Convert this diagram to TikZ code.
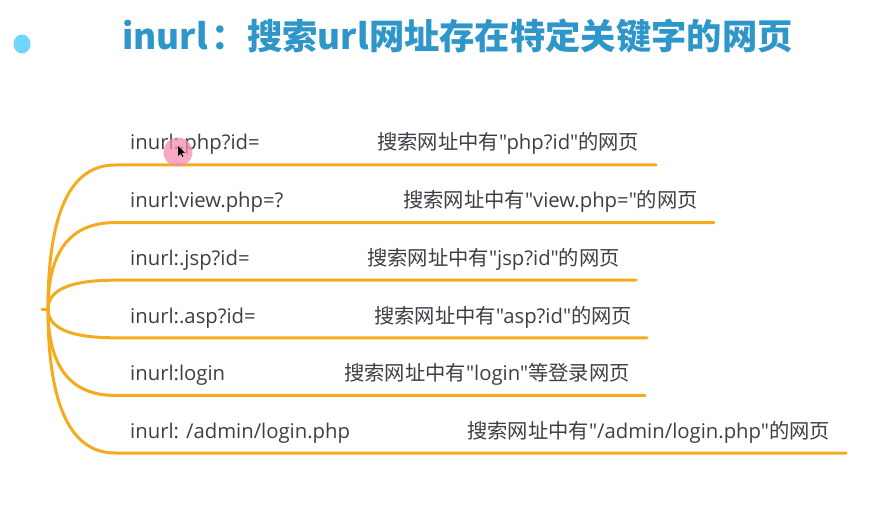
\documentclass[tikz,border=0pt]{standalone}
\usepackage{fontspec}
\newfontfamily\lat{Open Sans}
\newfontfamily\cjk{Noto Sans CJK SC}
\definecolor{branch}{HTML}{F5AB1E}
\definecolor{txt}{HTML}{3C3F44}
\definecolor{titleblue}{HTML}{2E96C9}
\definecolor{dotblue}{HTML}{6FD6FD}
\definecolor{pinkc}{HTML}{F28DB2}
\tikzset{
  branchline/.style={draw=branch, line width=3pt, line cap=round},
  keylabel/.style={anchor=base west, inner sep=0pt, text=txt, font=\lat\fontsize{20.3}{24}\selectfont},
  desclabel/.style={anchor=base west, inner sep=0pt, text=txt, font=\lat\fontsize{20.3}{24}\selectfont},
}
\begin{document}
\begin{tikzpicture}[x=1pt, y=-1pt]
\useasboundingbox (0,0) rectangle (873,505);
\fill[white] (0,0) rectangle (873,505);

% decoration dot
\fill[dotblue] (22,44) ellipse [x radius=8.5, y radius=9.5];

% title
\node[anchor=base west, inner sep=0pt, text=titleblue, font=\cjk\fontsize{35.3}{40}\selectfont\bfseries] (title) at (122,50)
  {inurl\kern4pt：搜索url网址存在特定关键字的网页};

% root
\coordinate (root) at (48,309);
\coordinate (stub) at (42,309);
\draw[branchline] (stub) -- (root);

% branch levels
\foreach \i/\y/\e in {1/165/656, 2/222.6/714, 3/280.2/636, 4/337.8/647, 5/395.4/645, 6/453/846}{
  \coordinate (s\i) at (115,\y);
  \coordinate (e\i) at (\e,\y);
  \draw[branchline] (root) .. controls (48,{309+2/3*(\y-309)}) and (70.3,\y) .. (s\i) -- (e\i);
}

% labels
\node[keylabel] (k1) at (130,150) {inurl:.php?id=};
\node[keylabel] (k2) at (130,208) {inurl:view.php=?};
\node[keylabel] (k3) at (130,265.6) {inurl:.jsp?id=};
\node[keylabel] (k4) at (130,323.2) {inurl:.asp?id=};
\node[keylabel] (k5) at (130,380.8) {inurl:login};
\node[keylabel] (k6) at (130,438.4) {inurl: /admin/login.php};

\node[desclabel] (d1) at (377,150) {{\cjk 搜索网址中有}"php?id"{\cjk 的网页}};
\node[desclabel] (d2) at (403,208) {{\cjk 搜索网址中有}"view.php="{\cjk 的网页}};
\node[desclabel] (d3) at (367,265.6) {{\cjk 搜索网址中有}"jsp?id"{\cjk 的网页}};
\node[desclabel] (d4) at (374,323.2) {{\cjk 搜索网址中有}"asp?id"{\cjk 的网页}};
\node[desclabel] (d5) at (344,380.8) {{\cjk 搜索网址中有}"login"{\cjk 等登录网页}};
\node[desclabel] (d6) at (467,438.4) {{\cjk 搜索网址中有}"/admin/login.php"{\cjk 的网页}};

% cursor highlight
\fill[pinkc, opacity=0.75] (178,152) circle (14.5);
\fill[black] (178,146) -- (178,156) -- (180.5,153.5) -- (182.5,157) -- (183.5,156.3) -- (181.7,153) -- (185,153) -- cycle;
\end{tikzpicture}
\end{document}
